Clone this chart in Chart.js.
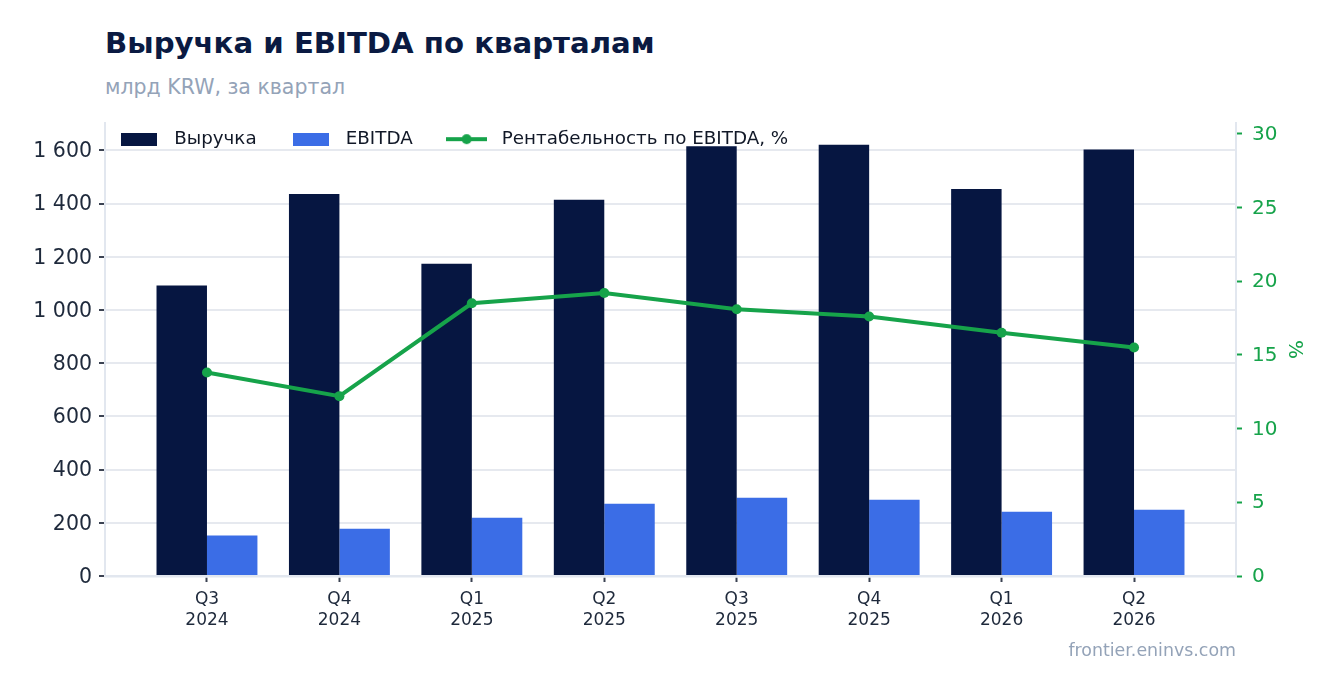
<!DOCTYPE html>
<html lang="ru">
<head>
<meta charset="utf-8">
<script src="https://cdn.jsdelivr.net/npm/chart.js@4.4.1/dist/chart.umd.min.js"></script>
<style>
  html, body { margin: 0; padding: 0; background: #ffffff; }
  body { width: 1336px; height: 693px; position: relative; overflow: hidden; font-family: "DejaVu Sans", sans-serif; }
  #title { position: absolute; left: 105px; top: 29px; font: bold 29.2px/29px "DejaVu Sans", sans-serif; color: #0a1a42; white-space: nowrap; }
  #subtitle { position: absolute; left: 105px; top: 77px; font: 20.5px/20.5px "DejaVu Sans", sans-serif; color: #94a3b8; white-space: nowrap; }
  #footer { position: absolute; right: 100px; top: 642px; font: 17.4px/17.4px "DejaVu Sans", sans-serif; color: #94a3b8; white-space: nowrap; }
  #c { position: absolute; left: 0; top: 0; }
</style>
</head>
<body>
<div id="title">Выручка и EBITDA по кварталам</div>
<div id="subtitle">млрд KRW, за квартал</div>
<canvas id="c" width="1336" height="693" style="width:1336px;height:693px"></canvas>
<div id="footer">frontier.eninvs.com</div>
<script>
// ---- data ----
const categories = ['Q3 2024', 'Q4 2024', 'Q1 2025', 'Q2 2025', 'Q3 2025', 'Q4 2025', 'Q1 2026', 'Q2 2026'];
const revenue = [1092, 1436, 1174, 1414, 1616, 1621, 1455, 1603];
const ebitda = [152, 178, 219, 272, 294, 287, 242, 249];
const margin = [13.8, 12.2, 18.5, 19.2, 18.1, 17.6, 16.5, 15.5];
const seriesNames = ['Выручка', 'EBITDA', 'Рентабельность по EBITDA, %'];
const leftTicks = [0, 200, 400, 600, 800, 1000, 1200, 1400, 1600];
const rightTicks = [0, 5, 10, 15, 20, 25, 30];

// ---- style ----
const C_REV = '#061641';
const C_EB = '#3b6de6';
const C_GREEN = '#16a34a';
const C_AXIS = '#e2e7ef';
const C_GRID = '#e6e9ef';
const C_TEXT = '#1e293b';
const C_TICK = '#3b4252';

function swatchRect(color, w, h) {
  const cv = document.createElement('canvas');
  cv.width = w; cv.height = h;
  const g = cv.getContext('2d');
  g.fillStyle = color; g.fillRect(0, 0, w, h);
  return cv;
}
function swatchLine(color, w, h) {
  const cv = document.createElement('canvas');
  cv.width = w; cv.height = h;
  const g = cv.getContext('2d');
  g.strokeStyle = color; g.lineWidth = 4;
  g.beginPath(); g.moveTo(0, h / 2); g.lineTo(w, h / 2); g.stroke();
  g.fillStyle = color; g.beginPath(); g.arc(w / 2, h / 2, 5, 0, Math.PI * 2); g.fill();
  return cv;
}
const legendImages = [swatchRect(C_REV, 36, 13), swatchRect(C_EB, 36, 13), swatchLine(C_GREEN, 41, 12)];

function fmtThousands(v) {
  return String(v).replace(/\B(?=(\d{3})+(?!\d))/g, ' ');
}

const legendHack = {
  id: 'legendHack',
  beforeLayout(chart) {
    const lg = chart.legend;
    if (lg && !lg._patched) {
      const orig = lg.fit;
      lg.fit = function () { orig.call(this); this.height = 0; };
      lg._patched = true;
    }
  },
  afterLayout(chart) {
    const lg = chart.legend;
    if (lg) {
      lg.left = 85; lg.right = 1230;
      lg.top = 102; lg.bottom = 160;
      lg.width = lg.right - lg.left; lg.height = lg.bottom - lg.top;
    }
  }
};

new Chart(document.getElementById('c'), {
  data: {
    datasets: [
      {
        type: 'bar', label: seriesNames[0],
        data: revenue.map((v, i) => ({ x: i, y: v })),
        backgroundColor: C_REV, borderWidth: 0, yAxisID: 'y', xAxisID: 'x', order: 2,
        barPercentage: 1.0, categoryPercentage: 0.762
      },
      {
        type: 'bar', label: seriesNames[1],
        data: ebitda.map((v, i) => ({ x: i, y: v })),
        backgroundColor: C_EB, borderWidth: 0, yAxisID: 'y', xAxisID: 'x', order: 2,
        barPercentage: 1.0, categoryPercentage: 0.762
      },
      {
        type: 'line', label: seriesNames[2],
        data: margin.map((v, i) => ({ x: i, y: v })),
        borderColor: C_GREEN, backgroundColor: C_GREEN, borderWidth: 4,
        pointRadius: 5, pointBackgroundColor: C_GREEN, pointBorderWidth: 0,
        tension: 0, yAxisID: 'y1', xAxisID: 'x', order: 0
      }
    ]
  },
  options: {
    responsive: false,
    animation: false,
    devicePixelRatio: 1,
    layout: { padding: { top: 123, left: 0, right: 0, bottom: 0 } },
    plugins: {
      tooltip: { enabled: false },
      title: { display: false },
      legend: {
        display: true,
        position: 'top',
        align: 'start',
        labels: {
          usePointStyle: true,
          pointStyleWidth: 52,
          boxHeight: 13,
          padding: 28,
          color: '#111827',
          font: { family: '"DejaVu Sans", sans-serif', size: 18.3 },
          sort(a, b) { return a.datasetIndex - b.datasetIndex; },
          generateLabels(chart) {
            const items = Chart.defaults.plugins.legend.labels.generateLabels(chart);
            items.forEach((it) => { it.pointStyle = legendImages[it.datasetIndex]; it.fontColor = '#111827'; });
            return items;
          }
        }
      }
    },
    scales: {
      x: {
        type: 'linear',
        position: 'bottom',
        offset: false,
        min: -0.77,
        max: 7.77,
        afterBuildTicks(axis) { axis.ticks = categories.map((_, i) => ({ value: i })); },
        afterFit(axis) { axis.height = 117; },
        ticks: {
          autoSkip: false, maxRotation: 0, minRotation: 0, padding: 7,
          color: C_TEXT,
          font: { family: '"DejaVu Sans", sans-serif', size: 17, lineHeight: 1.22 },
          callback(value) { const c = categories[value]; return c ? c.split(' ') : ''; }
        },
        grid: { display: true, offset: false, drawOnChartArea: false, drawTicks: true, tickLength: 6, tickColor: C_TICK, tickWidth: 2, color: C_AXIS },
        border: { display: true, color: C_AXIS, width: 2.5 }
      },
      y: {
        type: 'linear',
        position: 'left',
        min: 0,
        max: 1703,
        afterBuildTicks(axis) { axis.ticks = leftTicks.map(v => ({ value: v })); },
        afterFit(axis) { axis.width = 105; },
        ticks: {
          padding: 7, color: C_TEXT, labelOffset: 1.5,
          font: { family: '"DejaVu Sans", sans-serif', size: 20.5 },
          callback(value) { return fmtThousands(value); }
        },
        grid: { display: true, drawOnChartArea: true, color: C_GRID, lineWidth: 2, drawTicks: true, tickLength: 6, tickColor: C_TICK, tickWidth: 2 },
        border: { display: true, color: C_AXIS, width: 2 }
      },
      y1: {
        type: 'linear',
        position: 'right',
        min: 0,
        max: 30.73,
        afterBuildTicks(axis) { axis.ticks = rightTicks.map(v => ({ value: v })); },
        afterFit(axis) { axis.width = 100; },
        ticks: {
          padding: 10, color: C_GREEN, labelOffset: 1,
          font: { family: '"DejaVu Sans", sans-serif', size: 20 }
        },
        grid: { display: true, drawOnChartArea: false, drawTicks: true, tickLength: 6, tickColor: C_GREEN, tickWidth: 2, color: C_AXIS },
        border: { display: true, color: C_AXIS, width: 2 },
        title: {
          display: true, text: '%', color: C_GREEN,
          font: { family: '"DejaVu Sans", sans-serif', size: 20, lineHeight: 1.2 },
          padding: { top: 30, bottom: 0 }
        }
      }
    }
  },
  plugins: [legendHack]
});
</script>
</body>
</html>
